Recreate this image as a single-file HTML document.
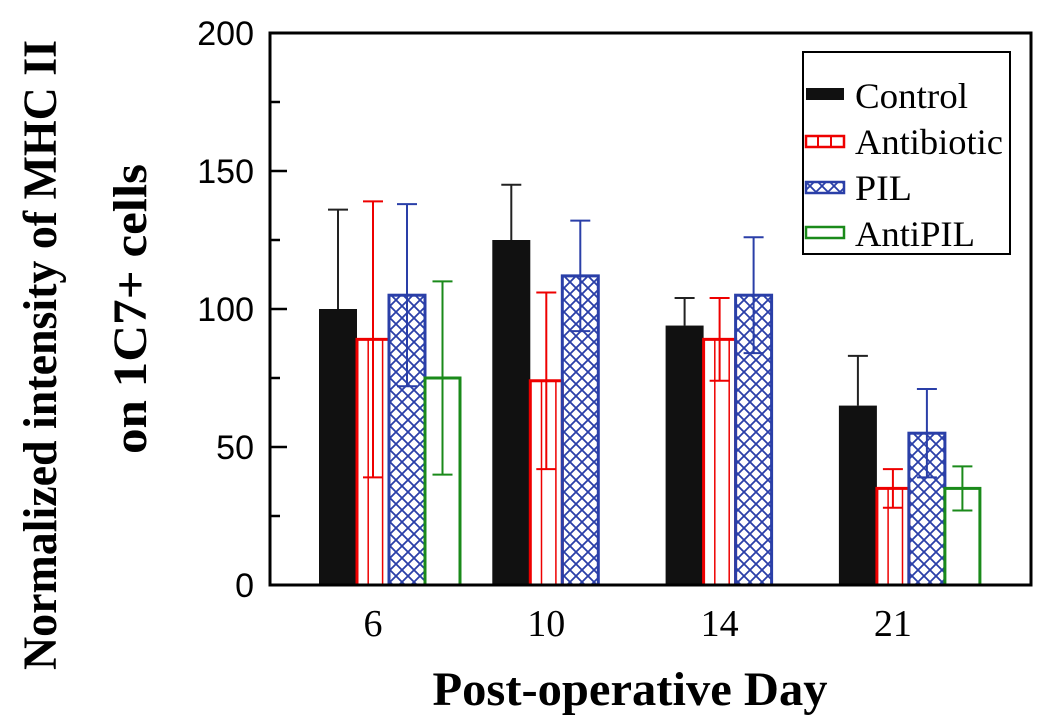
<!DOCTYPE html>
<html><head><meta charset="utf-8"><style>
html,body{margin:0;padding:0;background:#fff;}
svg{display:block;}
</style></head><body>
<svg id="chart" width="1050" height="726" xmlns="http://www.w3.org/2000/svg">
<defs>
<pattern id="hatch" patternUnits="userSpaceOnUse" width="12" height="12">
<path d="M0,0 L12,12 M12,0 L0,12" stroke="#2a3fa8" stroke-width="1.8"/>
</pattern>
</defs>
<g id="bars"></g>
<rect x="270" y="33" width="761" height="552" fill="none" stroke="#000" stroke-width="3"/>
<g id="axes"></g>
<text x="0" y="0" transform="translate(56,355) rotate(-90)" text-anchor="middle" font-family="Liberation Serif, serif" font-weight="bold" font-size="48" textLength="630" lengthAdjust="spacingAndGlyphs">Normalized intensity of MHC II</text>
<text x="0" y="0" transform="translate(146,309) rotate(-90)" text-anchor="middle" font-family="Liberation Serif, serif" font-weight="bold" font-size="48" textLength="290" lengthAdjust="spacingAndGlyphs">on 1C7+ cells</text>
<text x="630" y="705" text-anchor="middle" font-family="Liberation Serif, serif" font-weight="bold" font-size="48" textLength="395" lengthAdjust="spacingAndGlyphs">Post-operative Day</text>
<g>
<rect x="803" y="52" width="207" height="202" fill="#fff" stroke="#000" stroke-width="2"/>
<rect x="806" y="88" width="38" height="12" fill="#111"/>
<text x="855" y="108" font-family="Liberation Serif, serif" font-size="36" textLength="113" lengthAdjust="spacingAndGlyphs">Control</text>
<rect x="806" y="136" width="38" height="11" fill="#fff" stroke="#e00" stroke-width="2.5"/>
<line x1="818" y1="136" x2="818" y2="147" stroke="#e00" stroke-width="2"/><line x1="831" y1="136" x2="831" y2="147" stroke="#e00" stroke-width="2"/>
<text x="855" y="154" font-family="Liberation Serif, serif" font-size="36" textLength="148" lengthAdjust="spacingAndGlyphs">Antibiotic</text>
<rect x="806" y="182" width="38" height="11" fill="url(#hatch)" stroke="#2a3fa8" stroke-width="2.5"/>
<text x="855" y="200" font-family="Liberation Serif, serif" font-size="36" textLength="57" lengthAdjust="spacingAndGlyphs">PIL</text>
<rect x="806" y="227" width="38" height="11" fill="#fff" stroke="#1a8a1a" stroke-width="2.5"/>
<text x="855" y="246" font-family="Liberation Serif, serif" font-size="36" textLength="120" lengthAdjust="spacingAndGlyphs">AntiPIL</text>
</g>
</svg>
<script>
const days = ["6","10","14","21"];
const controlVals = [100, 125, 94, 65];
const controlErr = [36, 20, 10, 18];
const antibioticVals = [89, 74, 89, 35];
const antibioticErr = [50, 32, 15, 7];
const pilVals = [105, 112, 105, 55];
const pilErr = [33, 20, 21, 16];
const antipilVals = [75, null, null, 35];
const antipilErr = [35, null, null, 8];
const yTicks = [0, 50, 100, 150, 200];

const NS = "http://www.w3.org/2000/svg";
const Y0 = 585, Y1 = 33, YMAX = 200;
function y(v){ return Y0 - (v / YMAX) * (Y0 - Y1); }
const groupStart = 319, groupStep = 173.3;
function gx(i){ return groupStart + i * groupStep; }
const bars = document.getElementById('bars');
const axes = document.getElementById('axes');
function el(tag, attrs, parent){
  const e = document.createElementNS(NS, tag);
  for (const k in attrs) e.setAttribute(k, attrs[k]);
  parent.appendChild(e); return e;
}
const series = [
  {name:'control', vals:controlVals, err:controlErr, off:0, w:38, fill:'#111', stroke:'none', ecol:'#222', both:false},
  {name:'antibiotic', vals:antibioticVals, err:antibioticErr, off:38, w:32, fill:'#fff', stroke:'#e00', ecol:'#e00', both:true},
  {name:'pil', vals:pilVals, err:pilErr, off:70, w:36, fill:'url(#hatch)', stroke:'#2a3fa8', ecol:'#2a3fa8', both:true},
  {name:'antipil', vals:antipilVals, err:antipilErr, off:106, w:35, fill:'#fff', stroke:'#1a8a1a', ecol:'#1a8a1a', both:true}
];
series.forEach(s => {
  s.vals.forEach((v, i) => {
    if (v === null) return;
    const x = gx(i) + s.off, top = y(v);
    const r = el('rect', {x:x, y:top, width:s.w, height:Y0 - top, fill:s.fill, stroke:s.stroke, 'stroke-width':3}, bars);
    
    
    if (s.name === 'antibiotic') {
      el('line', {x1:x + s.w*0.35, y1:top, x2:x + s.w*0.35, y2:Y0, stroke:'#e00', 'stroke-width':1.5}, bars);
      el('line', {x1:x + s.w*0.8, y1:top, x2:x + s.w*0.8, y2:Y0, stroke:'#e00', 'stroke-width':1.5}, bars);
    }
    const cx = x + s.w / 2, e = s.err[i];
    const yt = y(v + e), yb = s.both ? y(v - e) : top;
    const g = el('g', {stroke:s.ecol, 'stroke-width':2}, bars);
    
    
    el('line', {x1:cx, y1:yt, x2:cx, y2:yb}, g);
    el('line', {x1:cx-10, y1:yt, x2:cx+10, y2:yt}, g);
    if (s.both) el('line', {x1:cx-10, y1:yb, x2:cx+10, y2:yb}, g);
  });
});
for (let v = 0; v <= 200; v += 25) {
  const major = v % 50 === 0;
  el('line', {x1:270, y1:y(v), x2:270 + (major ? 17 : 10), y2:y(v), stroke:'#000', 'stroke-width':2.5}, axes);
}
yTicks.forEach(v => {
  const t = el('text', {x:254, y:y(v) + 12, 'text-anchor':'end', 'font-family':'Liberation Sans, sans-serif', 'font-size':34}, axes);
  t.textContent = v;
  
  
});
days.forEach((d, i) => {
  const t = el('text', {x:gx(i) + 54, y:636, 'text-anchor':'middle', 'font-family':'Liberation Serif, serif', 'font-size':38}, axes);
  t.textContent = d;
  
  
});
</script>
</body></html>
